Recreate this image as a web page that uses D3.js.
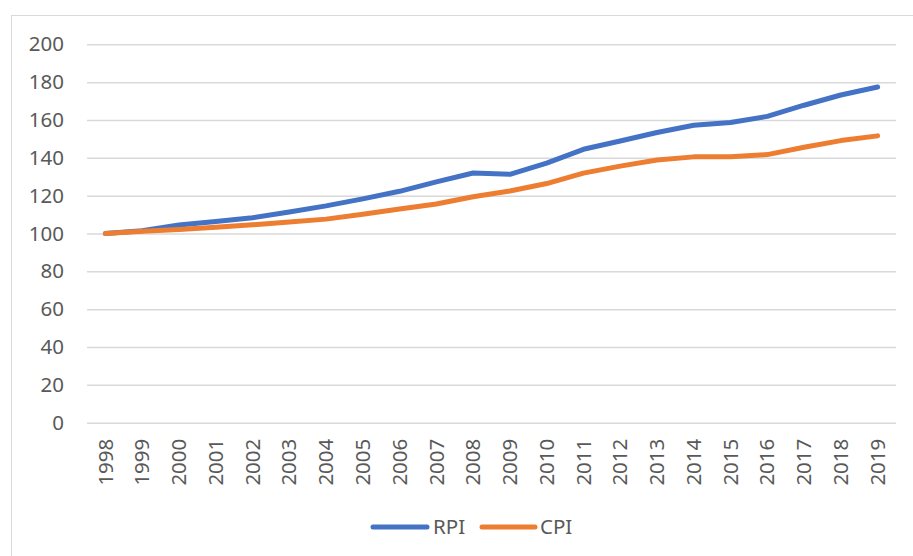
<!DOCTYPE html>
<html>
<head>
<meta charset="utf-8">
<script src="https://cdn.jsdelivr.net/npm/d3@7"></script>
<style>
  html, body { margin: 0; padding: 0; background: #fff; }
  svg { display: block; }
  text { font-family: "Noto Sans", "Open Sans", sans-serif; fill: #595959; }
</style>
</head>
<body>
<svg id="chart" width="913" height="556"></svg>
<script>
const years = ["1998","1999","2000","2001","2002","2003","2004","2005","2006","2007","2008",
               "2009","2010","2011","2012","2013","2014","2015","2016","2017","2018","2019"];
const rpi = [100, 101.5, 104.5, 106.4, 108.3, 111.4, 114.6, 118.3, 122.3, 127.3, 132.0,
             131.3, 137.2, 144.5, 148.9, 153.4, 157.2, 158.7, 161.9, 167.8, 173.2, 177.4];
const cpi = [100, 101.2, 102.1, 103.3, 104.6, 106.1, 107.6, 110.2, 112.9, 115.6, 119.4,
             122.5, 126.4, 131.9, 135.6, 138.8, 140.5, 140.6, 141.7, 145.6, 149.1, 151.6];
const yTicks = [0, 20, 40, 60, 80, 100, 120, 140, 160, 180, 200];
const seriesNames = ["RPI", "CPI"];
const seriesColors = ["#4472C4", "#ED7D31"];

(function () {
const svg = d3.select("#chart");
const fontSize = 20.5;

// chart border
svg.append("rect").attr("x", 11.5).attr("y", 15.5).attr("width", 920).attr("height", 560)
  .attr("fill", "none").attr("stroke", "#D9D9D9").attr("stroke-width", 1);

const pLeft = 87, pRight = 896, pTop = 44.3, pBottom = 422.7;
const x = d3.scaleBand().domain(years).range([pLeft, pRight]);
const y = d3.scaleLinear().domain([0, 200]).range([pBottom, pTop]);

// gridlines
const yAxis = d3.axisLeft(y).tickValues(yTicks).tickSize(-(pRight - pLeft)).tickPadding(23);
const gy = svg.append("g").attr("transform", `translate(${pLeft},0)`).call(yAxis);
gy.select(".domain").remove();
gy.selectAll(".tick line").attr("stroke", "#D9D9D9").attr("stroke-width", 1.5);
gy.selectAll(".tick text").attr("font-size", fontSize).attr("fill", "#595959")
  .style("font-family", '"Noto Sans", sans-serif');

// x axis
const xAxis = d3.axisBottom(x).tickSize(0).tickPadding(0);
const gx = svg.append("g").attr("transform", `translate(0,${pBottom})`).call(xAxis);
gx.select(".domain").remove();
gx.selectAll(".tick text")
  .attr("font-size", fontSize).attr("fill", "#595959")
  .style("font-family", '"Noto Sans", sans-serif')
  .attr("text-anchor", "end")
  .attr("y", 0).attr("x", 0)
  .attr("transform", "translate(0,16) rotate(-90)")
  .attr("dy", "0.35em");

// lines
const line = d3.line().x((d, i) => x(years[i]) + x.bandwidth() / 2).y(d => y(d));
[rpi, cpi].forEach((s, k) => {
  svg.append("path").datum(s).attr("d", line)
    .attr("fill", "none").attr("stroke", seriesColors[k]).attr("stroke-width", 5)
    .attr("stroke-linecap", "round").attr("stroke-linejoin", "round");
});

// legend
const legendItems = [{x0: 373, x1: 427, tx: 433}, {x0: 482, x1: 535, tx: 540}];
const ly = 527;
seriesNames.forEach((name, k) => {
  const it = legendItems[k];
  svg.append("line").attr("x1", it.x0).attr("x2", it.x1).attr("y1", ly).attr("y2", ly)
    .attr("stroke", seriesColors[k]).attr("stroke-width", 5).attr("stroke-linecap", "round");
  svg.append("text").attr("x", it.tx).attr("y", ly).attr("dy", "0.35em")
    .attr("font-size", fontSize).text(name);
});
})();
</script>
</body>
</html>
